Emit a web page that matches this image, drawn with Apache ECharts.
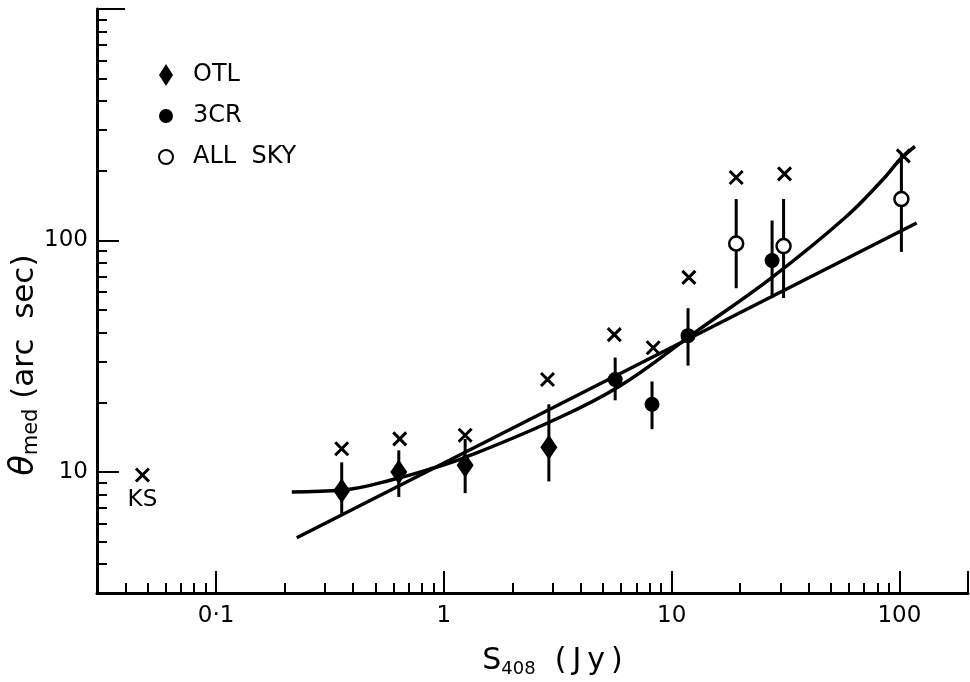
<!DOCTYPE html>
<html>
<head>
<meta charset="utf-8">
<script src="https://cdn.jsdelivr.net/npm/echarts@6/dist/echarts.min.js"></script>
<style>
  html, body { margin: 0; padding: 0; background: #fff; }
  #main { width: 970px; height: 682px; }
</style>
</head>
<body>
<div id="main"></div>
<script>
// OTL (diamonds)
var otlS = [0.356, 0.634, 1.24, 2.89];
var otlTheta = [8.3, 10.0, 10.7, 12.8];
var otlLo = [6.6, 7.8, 8.1, 9.1];
var otlHi = [11.0, 12.4, 13.9, 19.6];

// 3CR (filled circles)
var crS = [5.65, 8.2, 11.8, 27.6];
var crTheta = [25.1, 19.6, 38.8, 82];
var crLo = [20.4, 15.3, 28.8, 56.4];
var crHi = [31.2, 24.6, 51, 122];

// ALL SKY (open circles)
var skyS = [19.2, 31.0, 102];
var skyTheta = [97, 94.6, 151];
var skyLo = [62.2, 56.4, 89.3];
var skyHi = [151, 151, 236];

// crosses
var crossS = [0.356, 0.64, 1.24, 2.85, 5.6, 8.3, 11.9, 19.2, 31.3, 104];
var crossTheta = [12.6, 13.9, 14.4, 25.1, 39.2, 34.4, 69.3, 187, 194, 232];
var ksS = [0.0475];
var ksTheta = [9.7];

// fitted lines
var fitS = [0.226, 119];
var fitTheta = [5.2, 119];
var curveS = [0.215, 0.36, 0.63, 0.9, 1.25, 2.9, 5.8, 12.9, 27.6, 58, 84, 100, 117];
var curveTheta = [8.2, 8.35, 9.4, 10.4, 11.6, 16.4, 23.2, 40.6, 69.3, 126, 182, 222, 255];

// axis ticks
var xMajor = [0.1, 1, 10, 100, 200];
var xMinor = [0.04, 0.05, 0.06, 0.07, 0.08, 0.09, 0.2, 0.3, 0.4, 0.5, 0.6, 0.7, 0.8, 0.9,
  2, 3, 4, 5, 6, 7, 8, 9, 20, 30, 40, 50, 60, 70, 80, 90];
var xLabels = [0.1, 1, 10, 100];
var yMajor = [10, 100];
var yTop = [1000];
var yMinor = [4, 5, 6, 7, 8, 9, 20, 30, 40, 50, 60, 70, 80, 90,
  200, 300, 400, 500, 600, 700, 800, 900];
var yLabels = [10, 100];

function zip(a, b) {
  var out = [];
  for (var i = 0; i < a.length; i++) out.push([a[i], b[i]]);
  return out;
}
function bars(s, lo, hi) {
  var out = [];
  for (var i = 0; i < s.length; i++) out.push([s[i], lo[i], hi[i]]);
  return out;
}

var FONT = 'DejaVu Sans';
var myChart = echarts.init(document.getElementById('main'));

function errorBar(params, api) {
  var p1 = api.coord([api.value(0), api.value(1)]);
  var p2 = api.coord([api.value(0), api.value(2)]);
  return {
    type: 'line',
    shape: { x1: p1[0], y1: p1[1], x2: p2[0], y2: p2[1] },
    style: { stroke: '#000', lineWidth: 3 }
  };
}

var crossPath = 'path://M0,0L12,12M12,0L0,12';

function logAxis(min, max, pos) {
  return {
    type: 'log', logBase: 10, min: min, max: max, position: pos,
    axisLine: { show: false },
    axisLabel: { show: false },
    splitLine: { show: false }
  };
}
function ticks(values, len) {
  return { show: true, inside: true, length: len, customValues: values, lineStyle: { color: '#000', width: 2 } };
}

var xMain = logAxis(0.03, 200, 'bottom');
xMain.axisLine = { show: true, lineStyle: { color: '#000', width: 3 } };
xMain.axisTick = ticks(xMajor, 22);
xMain.axisLabel = {
  customValues: xLabels, margin: 12, color: '#000', fontFamily: FONT, fontSize: 23,
  formatter: function (v) { return v === 0.1 ? '0\u00b71' : String(v); }
};
xMain.name = '{m|S}{s|408}{m|  (\u2009J\u2009y\u2009)}';
xMain.nameLocation = 'middle';
xMain.nameGap = 43;
xMain.nameTextStyle = {
  padding: [0, 0, 0, 40],
  rich: {
    m: { fontFamily: FONT, fontSize: 30, color: '#000', height: 36 },
    s: { fontFamily: FONT, fontSize: 18, color: '#000', verticalAlign: 'bottom', height: 36, padding: [15, 0, 0, 0] }
  }
};
var xMinorAxis = logAxis(0.03, 200, 'bottom');
xMinorAxis.axisTick = ticks(xMinor, 10);

var yMain = logAxis(3, 1000, 'left');
yMain.axisLine = { show: true, lineStyle: { color: '#000', width: 3 } };
yMain.axisTick = ticks(yMajor, 22);
yMain.axisLabel = { customValues: yLabels, margin: 9, color: '#000', fontFamily: FONT, fontSize: 23 };
yMain.name = '{t|\u03b8}{s|med}{m| (arc  sec)}';
yMain.nameLocation = 'middle';
yMain.nameRotate = 90;
yMain.nameMoveOverlap = false;
yMain.nameGap = 46;
yMain.nameTextStyle = {
  padding: [0, 128, 0, 0],
  rich: {
    t: { fontFamily: FONT, fontSize: 33, fontStyle: 'italic', color: '#000', height: 38 },
    s: { fontFamily: FONT, fontSize: 21, color: '#000', verticalAlign: 'bottom', height: 38, padding: [15, 0, 0, 0] },
    m: { fontFamily: FONT, fontSize: 31, color: '#000', height: 38 }
  }
};
var yMinorAxis = logAxis(3, 1000, 'left');
yMinorAxis.axisTick = ticks(yMinor, 10);
var yTopAxis = logAxis(3, 1000, 'left');
yTopAxis.axisTick = ticks(yTop, 28);

var option = {
  animation: false,
  backgroundColor: '#fff',
  grid: { left: 97, right: 2, top: 9, bottom: 89, containLabel: false, outerBoundsMode: 'none' },
  legend: {
    orient: 'vertical',
    left: 153,
    top: 58,
    itemWidth: 14,
    itemHeight: 22,
    itemGap: 17,
    selectedMode: false,
    textStyle: { fontFamily: FONT, fontSize: 24, color: '#000', padding: [0, 0, 0, 15] },
    data: [
      { name: 'OTL', icon: 'path://M7,0L14,11L7,22L0,11Z' },
      { name: '3CR', icon: 'circle' },
      { name: 'ALL SKY', icon: 'circle' }
    ],
    formatter: function (n) { return n === 'ALL SKY' ? 'ALL  SKY' : n; }
  },
  xAxis: [xMain, xMinorAxis],
  yAxis: [yMain, yMinorAxis, yTopAxis],
  series: [
    {
      name: 'fit', type: 'line', data: zip(fitS, fitTheta), showSymbol: false, z: 2,
      lineStyle: { color: '#000', width: 3.5 }
    },
    {
      name: 'curve', type: 'line', data: zip(curveS, curveTheta), showSymbol: false, smooth: 0.4, z: 2,
      lineStyle: { color: '#000', width: 3.5 }
    },
    {
      name: 'bars', type: 'custom', renderItem: errorBar, z: 3,
      encode: { x: 0, y: [1, 2] },
      data: bars(otlS, otlLo, otlHi).concat(bars(crS, crLo, crHi), bars(skyS, skyLo, skyHi))
    },
    {
      name: 'OTL', type: 'scatter', symbol: 'diamond', symbolSize: [17, 25], z: 4,
      itemStyle: { color: '#000', opacity: 1 },
      data: zip(otlS, otlTheta)
    },
    {
      name: '3CR', type: 'scatter', symbol: 'circle', symbolSize: 15, z: 4,
      itemStyle: { color: '#000', opacity: 1 },
      data: zip(crS, crTheta)
    },
    {
      name: 'ALL SKY', type: 'scatter', symbol: 'circle', symbolSize: 14, z: 4,
      itemStyle: { color: '#fff', borderColor: '#000', borderWidth: 2.5, opacity: 1 },
      data: zip(skyS, skyTheta)
    },
    {
      name: 'cross', type: 'scatter', symbol: crossPath, symbolSize: 13, z: 4,
      itemStyle: { color: 'transparent', borderColor: '#000', borderWidth: 3, opacity: 1 },
      data: zip(crossS, crossTheta)
    },
    {
      name: 'KS', type: 'scatter', symbol: crossPath, symbolSize: 13, z: 4,
      itemStyle: { color: 'transparent', borderColor: '#000', borderWidth: 3, opacity: 1 },
      label: { show: true, position: 'bottom', distance: 6, formatter: 'KS', color: '#000', fontFamily: FONT, fontSize: 23 },
      data: zip(ksS, ksTheta)
    }
  ]
};
myChart.setOption(option);
window.onresize = function () {
  myChart.resize();
};
</script>
</body>
</html>
